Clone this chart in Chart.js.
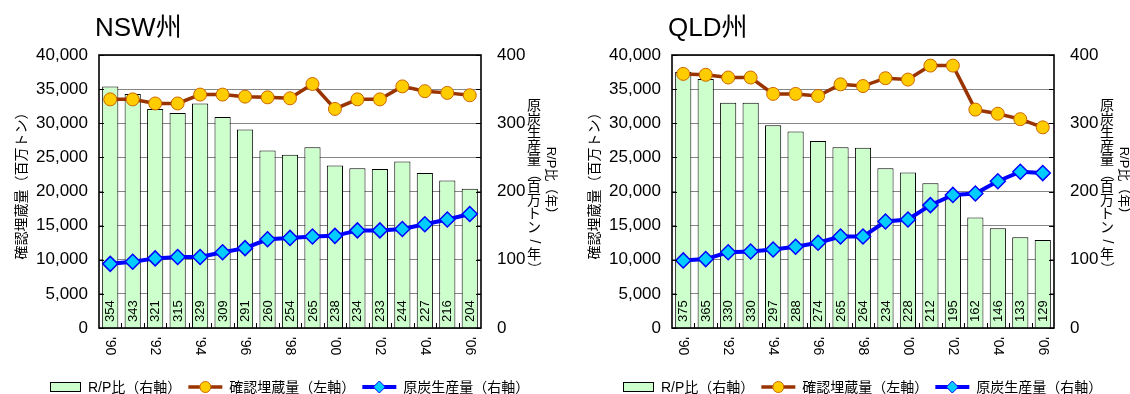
<!DOCTYPE html>
<html>
<head>
<meta charset="utf-8">
<script src="https://cdn.jsdelivr.net/npm/chart.js@4.4.1/dist/chart.umd.min.js"></script>
<style>
  html, body { margin: 0; padding: 0; background: #fff; }
  #wrap { position: relative; width: 1130px; height: 394px; overflow: hidden; }
  .panel { position: absolute; top: 0; height: 394px; }
  #p1 { left: 0; width: 565px; }
  #p2 { left: 573px; width: 557px; }
</style>
</head>
<body>
<div id="wrap">
  <div class="panel" id="p1"><canvas id="c1" width="565" height="394"></canvas></div>
  <div class="panel" id="p2"><canvas id="c2" width="557" height="394"></canvas></div>
</div>
<script>
// Years 1990-2006 (labels shown on every other year)
const years = ["'90","'91","'92","'93","'94","'95","'96","'97","'98","'99","'00","'01","'02","'03","'04","'05","'06"];

// New South Wales
const nswRP       = [354, 343, 321, 315, 329, 309, 291, 260, 254, 265, 238, 234, 233, 244, 227, 216, 204];
const nswReserves = [33500, 33500, 32900, 32900, 34200, 34200, 33900, 33800, 33650, 35750, 32100, 33500, 33500, 35400, 34700, 34450, 34100];
const nswOutput   = [94, 97, 102, 104, 104, 111, 117, 130, 132, 134, 135, 143, 143, 145, 152, 159, 167];

// Queensland
const qldRP       = [375, 365, 330, 330, 297, 288, 274, 265, 264, 234, 228, 212, 195, 162, 146, 133, 129];
const qldReserves = [37230, 37100, 36700, 36700, 34300, 34300, 34000, 35700, 35450, 36600, 36400, 38450, 38450, 32000, 31400, 30600, 29400];
const qldOutput   = [99, 101, 111, 112, 115, 119, 125, 134, 134, 156, 159, 180, 195, 197, 215, 229, 227];

const seriesNames = ['R/P比（右軸）', '確認埋蔵量（左軸）', '原炭生産量（右軸）'];
const leftTitle = '確認埋蔵量（百万トン）';
const rightTitleV = '原炭生産量（百万トン/年）';
const rightTitleR = 'R/P比（年）';

const FONT = '"Liberation Sans", Arial, "Noto Sans CJK JP", sans-serif';

// Extra drawing: frame, inner ticks, bar value labels, titles, rotated year labels, legend
const panelDecor = {
  id: 'panelDecor',
  afterDatasetsDraw(chart) {
    const { ctx, chartArea: a, scales } = chart;
    ctx.save();
    // bar value labels, vertical reading upward
    const barIdx = chart.data.datasets.findIndex(d => d.type === 'bar');
    const meta = chart.getDatasetMeta(barIdx);
    ctx.fillStyle = '#000';
    ctx.font = '13px ' + FONT;
    ctx.textAlign = 'left';
    ctx.textBaseline = 'middle';
    meta.data.forEach((bar, i) => {
      ctx.save();
      ctx.translate(bar.x + 0.5, a.bottom - 6);
      ctx.rotate(-Math.PI / 2);
      ctx.fillText(String(chart.data.datasets[barIdx].data[i]), 0, 0);
      ctx.restore();
    });
    // inner tick marks
    ctx.strokeStyle = '#000';
    ctx.lineWidth = 1;
    ctx.beginPath();
    scales.yL.ticks.forEach(t => {
      const y = Math.round(scales.yL.getPixelForValue(t.value)) + 0.5;
      ctx.moveTo(a.left, y); ctx.lineTo(a.left + 5, y);
      ctx.moveTo(a.right - 5, y); ctx.lineTo(a.right, y);
    });
    const n = chart.data.labels.length;
    const cw = (a.right - a.left) / n;
    for (let i = 1; i < n; i++) {
      const x = Math.round(a.left + i * cw) + 0.5;
      ctx.moveTo(x, a.bottom); ctx.lineTo(x, a.bottom - 5);
    }
    ctx.stroke();
    // plot frame
    ctx.lineWidth = 1.6;
    ctx.strokeRect(a.left, a.top, a.right - a.left, a.bottom - a.top);
    ctx.restore();
  },
  afterDraw(chart, args, opts) {
    const { ctx, chartArea: a, scales } = chart;
    ctx.save();
    ctx.fillStyle = '#000';
    // panel title
    ctx.font = '26px ' + FONT;
    ctx.textAlign = 'left';
    ctx.textBaseline = 'alphabetic';
    ctx.fillText(opts.title, a.left - 4, 36);

    // year labels, rotated clockwise
    ctx.font = '14px ' + FONT;
    ctx.textBaseline = 'middle';
    chart.data.labels.forEach((lab, i) => {
      if (i % 2 !== 0) return;
      const x = scales.x.getPixelForValue(i);
      ctx.save();
      ctx.translate(x, a.bottom + 9);
      ctx.rotate(Math.PI / 2);
      ctx.textAlign = 'left';
      ctx.fillText(lab, 0, 0);
      ctx.restore();
    });

    // left axis title
    const midY = (a.top + a.bottom) / 2;
    ctx.font = '14px ' + FONT;
    ctx.save();
    ctx.translate(22, midY - 9);
    ctx.rotate(-Math.PI / 2);
    ctx.textAlign = 'center';
    ctx.fillText(leftTitle, 0, 0);
    ctx.restore();

    // right axis title: vertical column with upright characters
    ctx.font = '14px ' + FONT;
    ctx.textAlign = 'center';
    const chars = Array.from(rightTitleV);
    const step = 13.5;
    let y0 = midY - 4 - (chars.length * step) / 2 + step / 2;
    const cx1 = a.right + 53;
    chars.forEach((ch, i) => {
      const y = y0 + i * step;
      if ('（）/'.includes(ch)) {
        ctx.save();
        ctx.translate(cx1, y);
        ctx.rotate(Math.PI / 2);
        ctx.fillText(ch, 0, 0);
        ctx.restore();
      } else {
        ctx.fillText(ch, cx1, y);
      }
    });
    // second line, rotated clockwise
    ctx.font = '13px ' + FONT;
    ctx.save();
    ctx.translate(a.right + 70, midY - 8);
    ctx.rotate(Math.PI / 2);
    ctx.fillText(rightTitleR, 0, 0);
    ctx.restore();

    // legend
    const ly = 387;
    ctx.font = '14px ' + FONT;
    ctx.textAlign = 'left';
    ctx.textBaseline = 'middle';
    let x = 50;
    chart.data.datasets.forEach(ds => {
      if (ds.type === 'bar') {
        ctx.fillStyle = ds.backgroundColor;
        ctx.fillRect(x, ly - 4.5, 30, 9);
        ctx.strokeStyle = '#000';
        ctx.lineWidth = 1;
        ctx.strokeRect(x + 0.5, ly - 4.5, 30, 9);
        x += 38;
      } else {
        ctx.strokeStyle = ds.borderColor;
        ctx.lineWidth = ds.borderWidth;
        ctx.beginPath();
        ctx.moveTo(x, ly); ctx.lineTo(x + 34, ly);
        ctx.stroke();
        const mx = x + 17;
        ctx.fillStyle = ds.pointBackgroundColor;
        ctx.strokeStyle = ds.pointBorderColor;
        ctx.lineWidth = 1;
        ctx.beginPath();
        if (ds.pointStyle === 'rectRot') {
          const r = 6;
          ctx.moveTo(mx - r, ly); ctx.lineTo(mx, ly - r); ctx.lineTo(mx + r, ly); ctx.lineTo(mx, ly + r);
          ctx.closePath();
        } else {
          ctx.arc(mx, ly, 5.5, 0, Math.PI * 2);
        }
        ctx.fill(); ctx.stroke();
        x += 41;
      }
      ctx.fillStyle = '#000';
      ctx.fillText(ds.label, x, ly + 1);
      x += ctx.measureText(ds.label).width + 7;
    });
    ctx.restore();
  }
};

function makeChart(id, title, rp, reserves, output, rightWidth) {
  return new Chart(document.getElementById(id), {
    data: {
      labels: years,
      datasets: [
        {
          type: 'bar', label: seriesNames[0], data: rp, yAxisID: 'yR', order: 3,
          backgroundColor: '#CCFFCC', borderColor: '#000000', borderWidth: 1,
          barPercentage: 0.72, categoryPercentage: 1
        },
        {
          type: 'line', label: seriesNames[1], data: reserves, yAxisID: 'yL', order: 2,
          borderColor: '#993300', borderWidth: 3.5, tension: 0,
          pointStyle: 'circle', pointRadius: 6.5, pointHoverRadius: 6.5,
          pointBackgroundColor: '#FFCC00', pointBorderColor: '#CC6600', pointBorderWidth: 1
        },
        {
          type: 'line', label: seriesNames[2], data: output, yAxisID: 'yR', order: 1,
          borderColor: '#0000FF', borderWidth: 4, tension: 0,
          pointStyle: 'rectRot', pointRadius: 7.5, pointHoverRadius: 7.5,
          pointBackgroundColor: '#00CCFF', pointBorderColor: '#0000FF', pointBorderWidth: 1.5
        }
      ]
    },
    options: {
      responsive: false,
      animation: false,
      events: [],
      layout: { padding: { top: 55, left: 0, right: 0, bottom: 0 } },
      plugins: {
        legend: { display: false },
        tooltip: { enabled: false },
        panelDecor: { title: title }
      },
      scales: {
        x: {
          type: 'category',
          offset: true,
          ticks: { display: false },
          grid: { display: false, drawTicks: false },
          border: { display: false },
          afterFit(s) { s.height = 66; }
        },
        yL: {
          position: 'left', min: 0, max: 40000,
          ticks: {
            stepSize: 5000, padding: 11, color: '#000',
            font: { family: FONT, size: 17 },
            callback: v => v.toLocaleString('en-US')
          },
          grid: { color: '#868686', lineWidth: 1, drawTicks: false },
          border: { display: false },
          afterFit(s) { s.width = 99; }
        },
        yR: {
          position: 'right', min: 0, max: 400,
          ticks: {
            stepSize: 100, padding: 16, color: '#000',
            font: { family: FONT, size: 17 }
          },
          grid: { display: false, drawTicks: false },
          border: { display: false },
          afterFit(s) { s.width = rightWidth; }
        }
      }
    },
    plugins: [panelDecor]
  });
}

makeChart('c1', 'NSW州', nswRP, nswReserves, nswOutput, 84);
makeChart('c2', 'QLD州', qldRP, qldReserves, qldOutput, 76);
</script>
</body>
</html>
